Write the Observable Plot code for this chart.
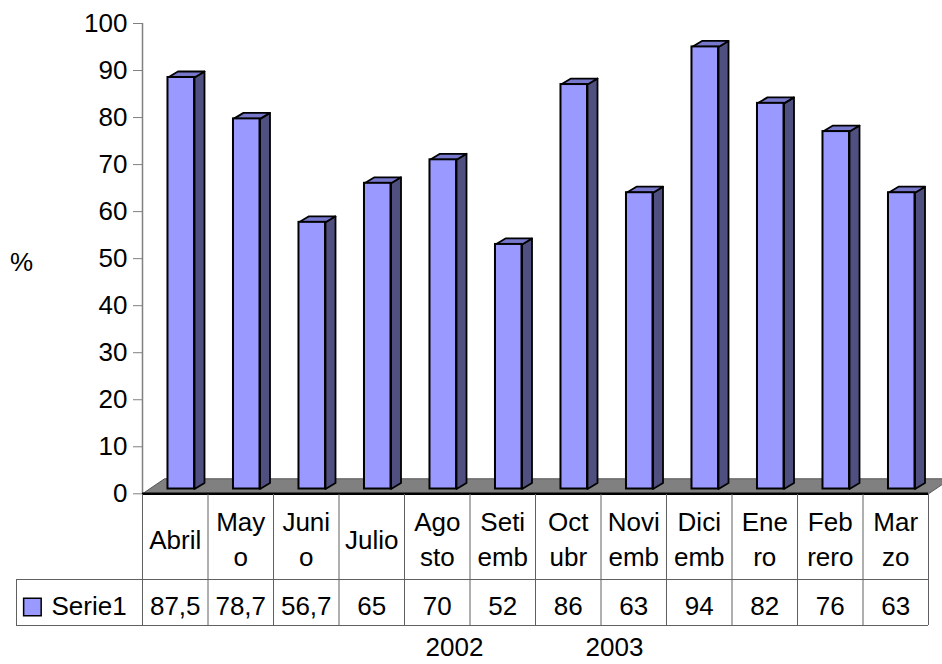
<!DOCTYPE html>
<html>
<head>
<meta charset="utf-8">
<script src="https://cdn.jsdelivr.net/npm/d3@7"></script>
<script src="https://cdn.jsdelivr.net/npm/@observablehq/plot@0.6"></script>
<style>
  html, body { margin: 0; padding: 0; background: #ffffff; }
  #chart svg { display: block; }
</style>
</head>
<body>
<div id="chart"></div>
<script>
// ---------- DATA ----------
const months = ["Abril", "Mayo", "Junio", "Julio", "Agosto", "Setiembre", "Octubre", "Noviembre", "Diciembre", "Enero", "Febrero", "Marzo"];
const monthLabels = ["Abril", "May\no", "Juni\no", "Julio", "Ago\nsto", "Seti\nemb", "Oct\nubr", "Novi\nemb", "Dici\nemb", "Ene\nro", "Feb\nrero", "Mar\nzo"];
const values = [87.5, 78.7, 56.7, 65, 70, 52, 86, 63, 94, 82, 76, 63];
const seriesName = "Serie1";
const yTicks = [0, 10, 20, 30, 40, 50, 60, 70, 80, 90, 100];
const yAxisLabel = "%";
const years = ["2002", "2003"];

// ---------- LAYOUT ----------
const W = 942, H = 664;
const mL = 142, mR = 14, mT = 23, Y0 = 493.3;
const stepX = (W - mL - mR) / months.length;       // px per column
const K = (Y0 - mT) / 100;                          // px per value unit
const xOf = px => (px - mL) / stepX;                // pixel -> x units
const yOf = px => (Y0 - px) / K;                    // pixel -> y units
const FS = 26;
const barL = 0.389, barR = 0.794;                   // front face within column
const DX = 10 / stepX, DY = 6 / K;                  // bar depth
const FDX = 22 / stepX, FDY = 15 / K;               // floor depth
const barShift = -4.8;                              // bars sit back in the floor
const yearCentersPx = [454, 614];

const front = "#9999FF", topC = "#7777CC", side = "#505080";

const rows = values.map((v, i) => ({i, v, x1: i + barL, x2: i + barR}));
const sidePts = rows.flatMap(r => [
  {i: r.i, x: r.x2, y: 0}, {i: r.i, x: r.x2, y: r.v},
  {i: r.i, x: r.x2 + DX, y: r.v + DY}, {i: r.i, x: r.x2 + DX, y: DY},
  {i: r.i, x: r.x2, y: 0}
]);
const topPts = rows.flatMap(r => [
  {i: r.i, x: r.x1, y: r.v}, {i: r.i, x: r.x1 + DX, y: r.v + DY},
  {i: r.i, x: r.x2 + DX, y: r.v + DY}, {i: r.i, x: r.x2, y: r.v},
  {i: r.i, x: r.x1, y: r.v}
]);
const n = months.length;
const floorPts = [{x: 0, y: 0}, {x: n, y: 0}, {x: n + FDX, y: FDY}, {x: FDX, y: FDY}, {x: 0, y: 0}];

const chart = Plot.plot({
  width: W, height: H,
  marginLeft: mL, marginRight: mR, marginTop: mT, marginBottom: H - Y0,
  style: {fontFamily: "'Liberation Sans', Arial, sans-serif", fontSize: FS + "px", background: "#ffffff", color: "black"},
  x: {type: "linear", domain: [0, n], axis: null},
  y: {type: "linear", domain: [0, 100], axis: null},
  marks: [
    // floor
    Plot.line(floorPts, {x: "x", y: "y", fill: "#808080", stroke: "#555555", strokeWidth: 1}),
    // y axis
    Plot.ruleX([0], {stroke: "#808080", strokeWidth: 1.5}),
    Plot.axisY(yTicks, {anchor: "left", tickSize: 9, tickPadding: 6, fontSize: FS, stroke: "#808080", fill: "black", label: null}),
    // 3D bars
    Plot.line(sidePts, {x: "x", y: "y", z: "i", fill: side, stroke: "black", strokeWidth: 1.8, dy: barShift}),
    Plot.line(topPts, {x: "x", y: "y", z: "i", fill: topC, stroke: "black", strokeWidth: 1.8, dy: barShift}),
    Plot.rect(rows, {x1: "x1", x2: "x2", y1: 0, y2: "v", fill: front, stroke: "black", strokeWidth: 2, dy: barShift}),
    // floor front edge
    Plot.ruleY([0], {stroke: "black", strokeWidth: 2.5}),
    // data table grid
    Plot.ruleX(d3.range(n + 1), {x: d => d, y1: yOf(494), y2: yOf(625), stroke: "#606060", strokeWidth: 1}),
    Plot.ruleX([xOf(16)], {y1: yOf(579), y2: yOf(625), stroke: "#606060", strokeWidth: 1}),
    Plot.ruleY([yOf(579), yOf(625)], {y: d => d, x1: xOf(16), x2: n, stroke: "#606060", strokeWidth: 1}),
    // table texts
    Plot.text(monthLabels, {x: (d, i) => i + 0.5, y: yOf(537), text: d => d, fontSize: FS, lineHeight: 1.36, lineAnchor: "middle", fill: "black"}),
    Plot.text(values, {x: (d, i) => i + 0.5, y: yOf(605.7), text: d => String(d).replace(".", ","), fontSize: FS, fill: "black"}),
    Plot.dot([seriesName], {x: xOf(31.9), y: yOf(606.5), symbol: "square", r: 9.9, fill: front, stroke: "black", strokeWidth: 1.5}),
    Plot.text([seriesName], {x: xOf(51), y: yOf(605.7), text: d => d, textAnchor: "start", fontSize: FS, fill: "black"}),
    // axis title and year labels
    Plot.text([yAxisLabel], {x: xOf(21), y: yOf(262), text: d => d, fontSize: FS, fill: "black"}),
    Plot.text(years, {x: (d, i) => xOf(yearCentersPx[i]), y: yOf(647.5), text: d => d, fontSize: FS, fill: "black"})
  ]
});
document.getElementById("chart").appendChild(chart);
</script>
</body>
</html>
